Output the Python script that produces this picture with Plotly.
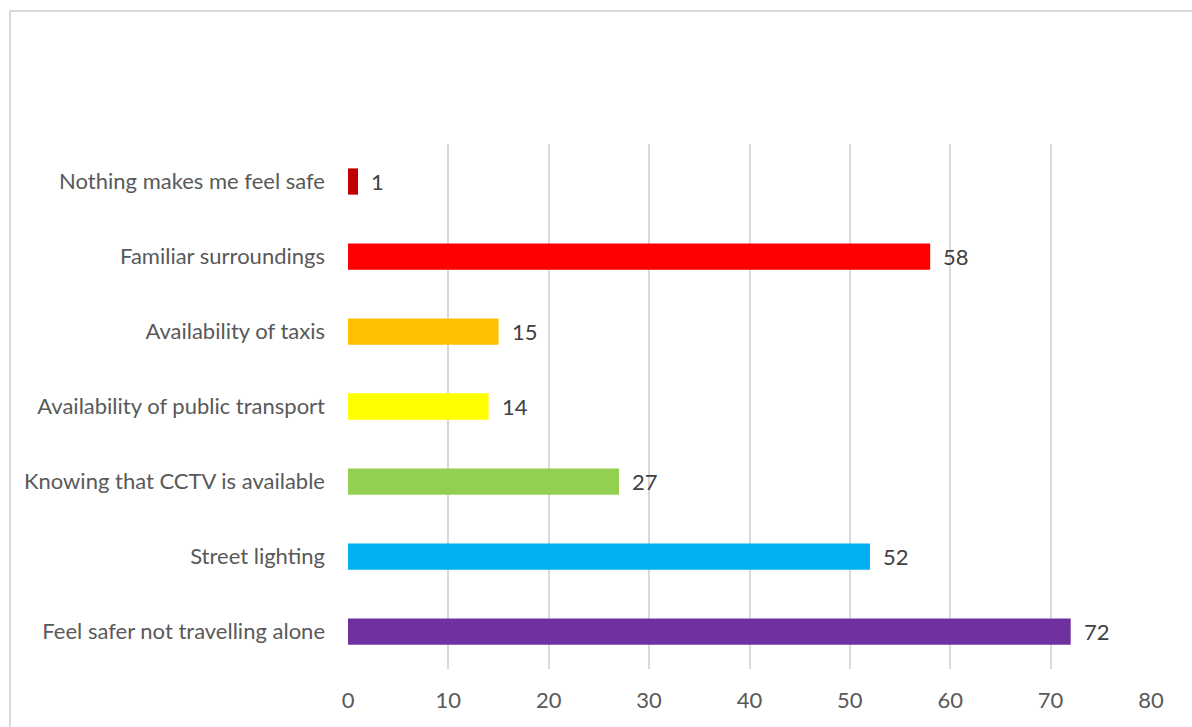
import plotly.graph_objects as go

# Reasons that make respondents feel safe, bottom to top
categories = [
    "Feel safer not travelling alone",
    "Street lighting",
    "Knowing that CCTV is available",
    "Availability of public transport",
    "Availability of taxis",
    "Familiar surroundings",
    "Nothing makes me feel safe",
]
values = [72, 52, 27, 14, 15, 58, 1]
colors = ["#7030A0", "#00B0F0", "#92D050", "#FFFF00", "#FFC000", "#FF0000", "#C00000"]
x_ticks = [0, 10, 20, 30, 40, 50, 60, 70, 80]

W, H = 1192, 727
L, R, T, B = 348, 41, 144, 58
FONT = "Lato"
FSIZE = 22

fig = go.Figure(
    go.Bar(
        x=values,
        y=categories,
        orientation="h",
        marker=dict(color=colors, line=dict(width=0)),
        width=0.35,
        hoverinfo="skip",
    )
)

# value labels just past the end of each bar
for cat, v in zip(categories, values):
    fig.add_annotation(
        x=v, y=cat, text=str(v), showarrow=False,
        xanchor="left", xshift=11,
        font=dict(family=FONT, size=FSIZE, color="#404040"),
    )

# chart frame (left and top edges)
pw = W - L - R
ph = H - T - B
fig.add_shape(type="line", xref="paper", yref="paper",
              x0=(10 - L) / pw, x1=(W - L) / pw,
              y0=1 + (T - 11) / ph, y1=1 + (T - 11) / ph,
              line=dict(color="#D9D9D9", width=2))
fig.add_shape(type="line", xref="paper", yref="paper",
              x0=(10 - L) / pw, x1=(10 - L) / pw,
              y0=1 + (T - 11) / ph, y1=-B / ph - 0.01,
              line=dict(color="#D9D9D9", width=2))

fig.update_layout(
    width=W, height=H,
    margin=dict(l=L, r=R, t=T, b=B),
    paper_bgcolor="white", plot_bgcolor="white",
    showlegend=False,
    font=dict(family=FONT, size=FSIZE, color="#595959"),
    xaxis=dict(
        range=[0, 80], tickvals=x_ticks,
        showgrid=True, gridcolor="#D9D9D9", gridwidth=2,
        zeroline=False, showline=False, ticks="",
        ticklabelstandoff=16,
        tickfont=dict(family=FONT, size=FSIZE, color="#595959"),
        fixedrange=True,
    ),
    yaxis=dict(
        categoryorder="array", categoryarray=categories,
        showgrid=False, zeroline=False, showline=False, ticks="",
        ticklabelstandoff=22,
        tickfont=dict(family=FONT, size=FSIZE, color="#595959"),
        fixedrange=True,
    ),
)

fig.write_html("out.html")
